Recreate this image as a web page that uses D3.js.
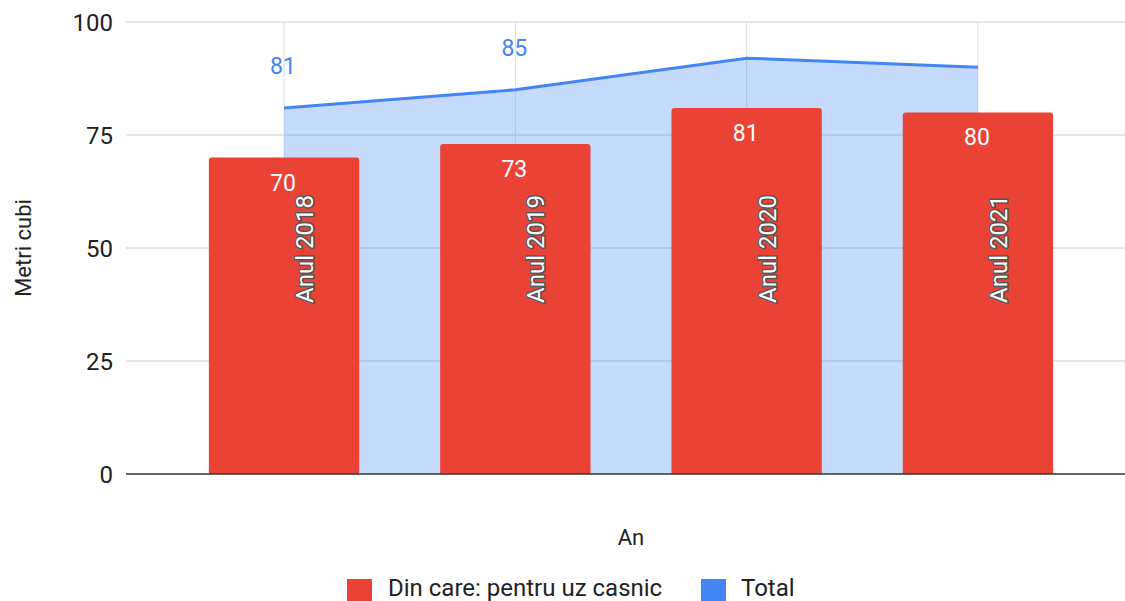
<!DOCTYPE html>
<html>
<head>
<meta charset="utf-8">
<script src="https://cdn.jsdelivr.net/npm/d3@7"></script>
<style>
  html, body { margin: 0; padding: 0; background: #fff; }
  svg { display: block; font-family: Roboto, "Noto Sans", Arial, sans-serif; }
</style>
</head>
<body>
<svg id="chart" width="1125" height="601"></svg>
<script>
const categories = ["Anul 2018", "Anul 2019", "Anul 2020", "Anul 2021"];
const casnicValues = [70, 73, 81, 80];
const totalValues = [81, 85, 92, 90];
const totalLabelIdx = [0, 1];
const yTicks = [0, 25, 50, 75, 100];
const seriesNames = ["Din care: pentru uz casnic", "Total"];
const colors = { casnic: "#ea4335", total: "#4285f4" };

const svg = d3.select("#chart");
const plot = { left: 126, right: 1125, top: 22, bottom: 474 };

const y = d3.scaleLinear().domain([0, 100]).range([plot.bottom, plot.top]);
const x = d3.scaleBand().domain(categories).range([168.4, 1093.6]).paddingInner(0.35).paddingOuter(0.175);
const cx = c => x(c) + x.bandwidth() / 2;

// horizontal gridlines
svg.append("g").selectAll("line").data(yTicks.filter(d => d !== 0)).join("line")
  .attr("x1", plot.left).attr("x2", plot.right)
  .attr("y1", d => y(d)).attr("y2", d => y(d))
  .attr("stroke", "#cccccc").attr("stroke-width", 1);

// vertical gridlines
svg.append("g").selectAll("line").data(categories).join("line")
  .attr("x1", d => cx(d)).attr("x2", d => cx(d))
  .attr("y1", plot.top).attr("y2", plot.bottom)
  .attr("stroke", "#dddddd").attr("stroke-width", 1);

// y tick labels
const yAxis = d3.axisLeft(y).tickValues(yTicks).tickSize(0).tickPadding(0).tickFormat(d3.format("d"));
const gy = svg.append("g").attr("transform", `translate(113,0)`).call(yAxis);
gy.select(".domain").remove();
gy.selectAll("text").attr("font-size", 24).attr("fill", "#222").attr("font-family", "Roboto").attr("dy", "0.35em");

// total area + line
const area = d3.area().x((d, i) => cx(categories[i])).y0(y(0)).y1(d => y(d));
const line = d3.line().x((d, i) => cx(categories[i])).y(d => y(d));
svg.append("path").datum(totalValues).attr("d", area).attr("fill", colors.total).attr("fill-opacity", 0.3);
svg.append("path").datum(totalValues).attr("d", line).attr("fill", "none").attr("stroke", colors.total).attr("stroke-width", 3);

// bars with rounded top corners
const r = 3;
svg.append("g").selectAll("path").data(casnicValues).join("path")
  .attr("d", (d, i) => {
    const x0 = x(categories[i]), w = x.bandwidth(), yt = y(d), yb = y(0);
    return `M${x0},${yb}V${yt + r}Q${x0},${yt} ${x0 + r},${yt}H${x0 + w - r}Q${x0 + w},${yt} ${x0 + w},${yt + r}V${yb}Z`;
  })
  .attr("fill", colors.casnic);

// baseline
svg.append("line").attr("x1", plot.left).attr("x2", plot.right)
  .attr("y1", y(0)).attr("y2", y(0)).attr("stroke", "#333").attr("stroke-width", 1.5);

// bar value labels
svg.append("g").selectAll("text").data(casnicValues).join("text")
  .attr("x", (d, i) => cx(categories[i]) - 1)
  .attr("y", d => y(d) + 33)
  .attr("text-anchor", "middle").attr("font-size", 23).attr("fill", "#fff")
  .text(d => d);

// rotated category labels inside bars
svg.append("g").selectAll("text").data(categories).join("text")
  .attr("transform", d => `translate(${cx(d) + 29},249) rotate(-90)`)
  .attr("text-anchor", "middle")
  .attr("font-size", 24).attr("fill", "#fff")
  .attr("stroke", "#555").attr("stroke-width", 3).attr("paint-order", "stroke")
  .attr("stroke-linejoin", "round")
  .text(d => d);

// total labels
svg.append("g").selectAll("text").data(totalLabelIdx).join("text")
  .attr("x", i => cx(categories[i]) - 1)
  .attr("y", i => y(totalValues[i]) - 34)
  .attr("text-anchor", "middle").attr("font-size", 23).attr("fill", colors.total)
  .text(i => totalValues[i]);

// axis titles
svg.append("text").attr("x", 631).attr("y", 545).attr("text-anchor", "middle")
  .attr("font-size", 22).attr("fill", "#222").text("An");
svg.append("text").attr("transform", "translate(31,248) rotate(-90)").attr("text-anchor", "middle")
  .attr("font-size", 22).attr("fill", "#222").text("Metri cubi");

// legend
const legend = [
  { name: seriesNames[0], color: colors.casnic, x: 347, tx: 388 },
  { name: seriesNames[1], color: colors.total, x: 701, tx: 741 }
];
const lg = svg.append("g");
lg.selectAll("rect").data(legend).join("rect")
  .attr("x", d => d.x).attr("y", 579).attr("width", 25).attr("height", 25).attr("fill", d => d.color);
lg.selectAll("text").data(legend).join("text")
  .attr("x", d => d.tx).attr("y", 596).attr("font-size", 24).attr("fill", "#222").text(d => d.name);
</script>
</body>
</html>
